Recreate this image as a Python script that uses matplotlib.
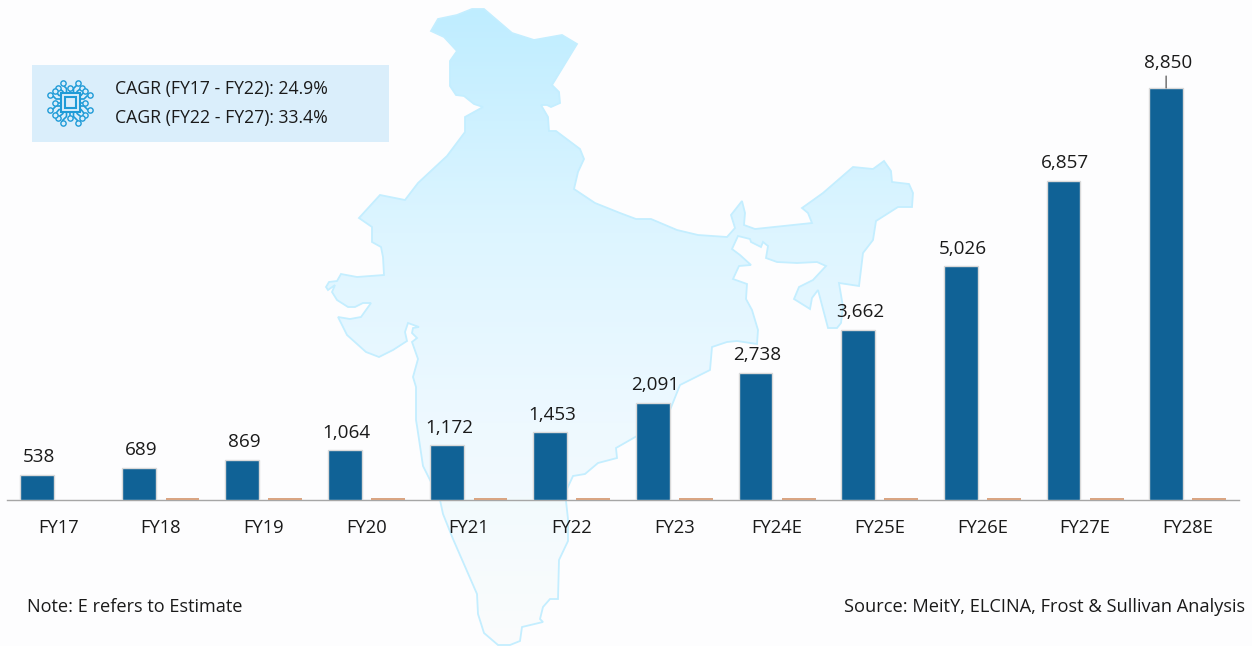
import numpy as np
import matplotlib
matplotlib.use("Agg")
import matplotlib.pyplot as plt
from matplotlib.colors import LinearSegmentedColormap
from matplotlib.patches import Polygon, Rectangle

plt.rcParams['font.family'] = ['Open Sans', 'DejaVu Sans']

W, H = 1252, 646
BG = '#FDFDFE'

categories = ['FY17', 'FY18', 'FY19', 'FY20', 'FY21', 'FY22', 'FY23', 'FY24E', 'FY25E', 'FY26E', 'FY27E', 'FY28E']
market_values = [538, 689, 869, 1064, 1172, 1453, 2091, 2738, 3662, 5026, 6857, 8850]
second_values = [np.nan, 40, 40, 40, 40, 40, 40, 40, 40, 40, 40, 40]
cagr_lines = ['CAGR (FY17 - FY22): 24.9%', 'CAGR (FY22 - FY27): 33.4%']
note_text = 'Note: E refers to Estimate'
source_text = 'Source: MeitY, ELCINA, Frost & Sullivan Analysis'

# Decorative backdrop outline (image pixels)
map_outline = [
    (359,218),(380,195),(405,200),(418,183),(447,156),(465,132),(465,117),(483,107),(474,104),(464,96),
    (456,95),(450,86),(450,61),(457,51),(444,37),(431,31),(438,19),(457,15),(472,9),(484,9),(512,33),
    (534,40),(562,35),(577,44),(552,85),(559,92),(560,103),(551,107),(547,105),(541,105),(548,117),
    (549,131),(556,131),(580,149),(584,159),(578,172),(574,189),(595,203),(620,213),(636,219),(651,219),
    (677,230),(698,235),(727,237),(735,228),(731,215),(742,201),(745,213),(744,225),(755,229),(812,223),
    (808,213),(802,208),(823,193),(853,167),(873,169),(884,161),(891,171),(892,182),(909,184),(913,193),
    (912,207),(898,207),(876,221),(873,240),(863,253),(859,286),(839,283),(843,307),(841,323),(837,328),
    (828,328),(818,290),(812,298),(810,309),(794,299),(799,287),(813,280),(826,266),(817,262),(797,263),
    (777,262),(766,258),(768,246),(763,242),(761,247),(751,242),(750,239),(738,236),(732,249),(740,255),
    (751,265),(739,266),(733,279),(747,284),(746,299),(752,310),(758,330),(757,344),(737,341),(727,342),
    (712,347),(710,370),(680,385),(670,410),(637,436),(616,448),(617,458),(598,463),(585,474),(573,476),
    (567,489),(566,501),(568,519),(568,541),(559,560),(558,599),(550,599),(543,607),(540,619),(543,622),
    (522,627),(520,641),(510,645),(498,645),(484,633),(478,614),(477,594),(453,539),(443,514),(440,500),
    (423,466),(417,426),(416,420),(416,387),(413,377),(418,359),(412,342),(417,338),(412,333),(413,328),
    (419,327),(408,323),(405,332),(407,341),(393,350),(379,357),(366,352),(347,335),(338,317),(350,319),
    (361,317),(371,303),(363,303),(355,307),(348,307),(337,300),(332,292),(335,285),(328,290),(326,287),
    (329,282),(337,281),(341,274),(357,277),(384,275),(383,257),(381,247),(372,242),(372,227),
]

fig = plt.figure(figsize=(W / 100, H / 100), dpi=100, facecolor=BG)

# Background layer in image pixels
bg = fig.add_axes([0, 0, 1, 1], zorder=0)
bg.set_xlim(0, W)
bg.set_ylim(H, 0)
bg.axis('off')
cmap = LinearSegmentedColormap.from_list(
    'map', [(0, '#BFEDFF'), (0.35, '#DDF5FF'), (0.65, '#EEF9FF'), (1, '#FBFCFC')])
im = bg.imshow(np.linspace(0, 1, 256)[:, None], extent=(320, 920, 646, 9), cmap=cmap, aspect='auto', zorder=1)
poly = Polygon(map_outline, closed=True, facecolor='none', edgecolor='#C4EEFF', lw=1.3, zorder=2)
bg.add_patch(poly)
im.set_clip_path(poly)
bg.set_xlim(0, W)
bg.set_ylim(H, 0)

# CAGR box
bg.add_patch(Rectangle((32, 65), 357, 76.5, facecolor='#DAEEFB', edgecolor='none', zorder=3))
for s, yy in zip(cagr_lines, (89, 118)):
    bg.text(115, yy, s, fontsize=12.7, color='#1A1A1A', va='center', ha='left', zorder=5)

# Chip icon
ICON = '#1F9BD7'
cx, cy = 70, 102.5
bg.add_patch(Rectangle((cx - 9.5, cy - 9.5), 19, 19, fc='none', ec=ICON, lw=1.5, zorder=5))
bg.add_patch(Rectangle((cx - 5.5, cy - 5.5), 11, 11, fc='none', ec=ICON, lw=1.5, zorder=5))
traces = [
    [(0, -10), (0, -15)],
    [(-3.5, -10), (-3.5, -14), (-7.5, -18), (-7.5, -20)],
    [(3.5, -10), (3.5, -14), (7.5, -18), (7.5, -20)],
    [(-7, -10), (-7, -11), (-12, -15)],
    [(7, -10), (7, -11), (12, -15)],
]
for k in range(4):
    a = k * np.pi / 2
    c, s = np.cos(a), np.sin(a)
    for tr in traces:
        xs = [cx + p * c - q * s for p, q in tr]
        ys = [cy + p * s + q * c for p, q in tr]
        bg.plot(xs, ys, color=ICON, lw=1.2, zorder=5, solid_capstyle='round')
        bg.plot(xs[-1], ys[-1], 'o', ms=3.8, mfc='#DAEEFB', mec=ICON, mew=1.0, zorder=6)

bg.text(27, 607, note_text, fontsize=13.05, color='#1A1A1A', va='center', ha='left', zorder=5)
bg.text(1245, 607, source_text, fontsize=13.13, color='#1A1A1A', va='center', ha='right', zorder=5)

# Chart layer
PX_LEFT, PX_RIGHT = 7.0, 1239.0
PX_BASE = 500.0
PX_PER_UNIT = 412.0 / 8850.0
ax = fig.add_axes([PX_LEFT / W, 1 - PX_BASE / H, (PX_RIGHT - PX_LEFT) / W, PX_BASE / H], zorder=2)
ax.patch.set_alpha(0)
x = np.arange(len(categories))
ax.set_xlim(-0.5, len(categories) - 0.5)
ax.set_ylim(0, PX_BASE / PX_PER_UNIT)

ax.bar(x - 0.21, market_values, width=0.33, color='#106296', edgecolor='#D9D9D9', linewidth=1.0, zorder=3)
ax.bar(x + 0.21, second_values, width=0.33, color='#D9A583', edgecolor='none', zorder=3)

for xi, v in zip(x, market_values):
    gap = 24.5 if v == max(market_values) else 17.5
    ax.annotate(f'{v:,}', (xi - 0.21, v), xytext=(2 * 0.72, gap * 0.72), textcoords='offset points',
                ha='center', va='center', fontsize=13.6, color='#1A1A1A', annotation_clip=False)
    if v == max(market_values):
        ax.annotate('', (xi - 0.21, v), xytext=(0, 12 * 0.72), textcoords='offset points',
                    arrowprops=dict(arrowstyle='-', color='#404040', lw=0.8, shrinkA=0, shrinkB=0),
                    annotation_clip=False)

for sp in ('top', 'left', 'right'):
    ax.spines[sp].set_visible(False)
ax.spines['bottom'].set_color('#A6A6A6')
ax.spines['bottom'].set_linewidth(1.0)
ax.spines['bottom'].set_zorder(2)
ax.set_yticks([])
ax.set_xticks(x)
ax.set_xticklabels(categories, fontsize=13.2, color='#1A1A1A')
ax.tick_params(axis='x', length=0, pad=13.5)

fig.savefig('out.png', dpi=100, facecolor=BG)
